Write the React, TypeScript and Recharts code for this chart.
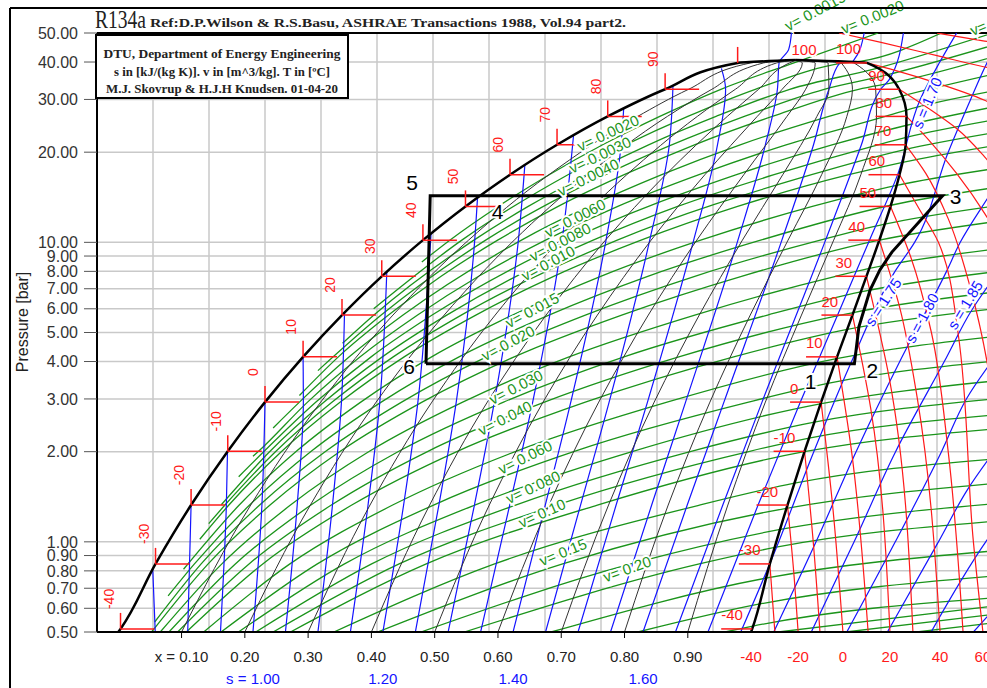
import React from "react";
import {
  ComposedChart,
  Line,
  XAxis,
  YAxis,
  CartesianGrid,
  ReferenceLine,
  ReferenceDot,
} from "recharts";

// ---------- data (h in kJ/kg, p in bar, T in C) ----------

const P_TICKS = [0.5, 0.6, 0.7, 0.8, 0.9, 1, 2, 3, 4, 5, 6, 7, 8, 9, 10, 20, 30, 40, 50];
const H_GRID = [160, 180, 200, 220, 240, 260, 280, 300, 320, 340, 360, 380, 400, 420, 440, 460];

const SAT_T = [-40, -30, -20, -10, 0, 10, 20, 30, 40, 50, 60, 70, 80, 90, 100];
const SAT_P = [0.512, 0.844, 1.327, 2.006, 2.928, 4.146, 5.717, 7.702, 10.17, 13.18, 16.82, 21.17, 26.33, 32.44, 39.72];
const SAT_HL = [148.4, 160.9, 173.6, 186.7, 200.0, 213.6, 227.5, 241.7, 256.4, 271.6, 287.5, 304.3, 322.4, 342.9, 368.8];
const SAT_HV = [374.0, 380.3, 386.6, 392.7, 398.6, 404.3, 409.8, 414.8, 419.4, 423.4, 426.6, 428.8, 429.1, 426.5, 415.0];
const CRIT = [389.6, 40.59];
const BOTTOM_HL = 147.6;
const BOTTOM_HV = 373.6;

// quality lines x = 0.1 .. 0.9
const Q_P = [0.5, 1.327, 2.928, 5.717, 10.17, 16.82, 26.33, 32.44, 39.72, 40.59];
const Q_LABELS = ["x = 0.10", "0.20", "0.30", "0.40", "0.50", "0.60", "0.70", "0.80", "0.90"];
const Q_H = [
  [170.2, 194.9, 219.9, 245.7, 272.7, 301.4, 333.1, 351.3, 373.4, 389.6],
  [192.8, 216.2, 239.7, 264.0, 289.0, 315.3, 343.7, 359.6, 378.0, 389.6],
  [215.4, 237.5, 259.6, 282.2, 305.3, 329.2, 354.4, 368.0, 382.7, 389.6],
  [238.0, 258.8, 279.4, 300.4, 321.6, 343.1, 365.1, 376.3, 387.3, 389.6],
  [260.6, 280.1, 299.3, 318.7, 337.9, 357.1, 375.8, 384.7, 391.9, 389.6],
  [283.2, 301.4, 319.2, 336.9, 354.2, 371.0, 386.4, 393.1, 396.5, 389.6],
  [305.8, 322.7, 339.0, 355.1, 370.5, 384.9, 397.1, 401.4, 401.1, 389.6],
  [328.4, 344.0, 358.9, 373.3, 386.8, 398.8, 407.8, 409.8, 405.8, 389.6],
  [351.0, 365.3, 378.7, 391.6, 403.1, 412.8, 418.4, 418.1, 410.4, 389.6],
];

// isochores [h, p]
const ISOCHORES: { v: number; pts: number[][] }[] = [
  { v: 0.002, pts: [[256, 8.6], [266.0, 10.17], [283.3, 13.18], [301.5, 16.82], [320.6, 21.17], [341.0, 26.33], [362.8, 32.44], [388.9, 39.72], [419, 50]] },
  { v: 0.0025, pts: [[238.8, 6.0], [270.3, 10.17], [308.2, 16.82], [351.0, 26.33], [375.1, 32.44], [406.7, 39.72], [413, 40.3], [441.6, 50]] },
  { v: 0.003, pts: [[227.7, 4.6], [238.9, 5.717], [274.6, 10.17], [294.0, 13.18], [314.9, 16.82], [337.0, 21.17], [361.1, 26.33], [387.4, 32.44], [418.5, 38.1], [460, 50]] },
  { v: 0.0035, pts: [[218.9, 3.73], [241.5, 5.717], [278.8, 10.17], [321.6, 16.82], [371.2, 26.33], [399.7, 32.44], [421, 36.0], [460, 45.5]] },
  { v: 0.004, pts: [[212.3, 3.08], [226.2, 4.146], [244.1, 5.717], [262.9, 7.702], [283.1, 10.17], [304.7, 13.18], [328.3, 16.82], [353.4, 21.17], [381.2, 26.33], [412.0, 32.44], [425, 34.2], [460, 41.6]] },
  { v: 0.005, pts: [[202.9, 2.4], [212.3, 2.928], [230.1, 4.146], [249.3, 5.717], [291.6, 10.17], [341.7, 16.82], [369.7, 21.17], [401.4, 26.33], [427.5, 30.8], [460, 36.4]] },
  { v: 0.006, pts: [[195.7, 1.93], [197.7, 2.006], [215.2, 2.928], [234.0, 4.146], [254.5, 5.717], [276.3, 7.702], [300.2, 10.17], [326.0, 13.18], [355.0, 16.82], [386.1, 21.17], [421.5, 26.33], [428.8, 27.6], [460, 32.0]] },
  { v: 0.007, pts: [[190.6, 1.65], [199.7, 2.006], [218.2, 2.928], [237.9, 4.146], [259.7, 5.717], [308.7, 10.17], [368.4, 16.82], [402.5, 21.17], [429.2, 24.6], [460, 28.3]] },
  { v: 0.008, pts: [[184.4, 1.33], [201.8, 2.006], [221.1, 2.928], [241.9, 4.146], [264.9, 5.717], [289.7, 7.702], [317.2, 10.17], [347.4, 13.18], [381.8, 16.82], [418.9, 21.17], [429, 22.4], [460, 25.6]] },
  { v: 0.009, pts: [[179.9, 1.15], [185.7, 1.327], [203.9, 2.006], [224.0, 2.928], [245.8, 4.146], [270.1, 5.717], [325.8, 10.17], [395.2, 16.82], [428.5, 20.4], [460, 23.2]] },
  { v: 0.01, pts: [[176.7, 1.02], [187.1, 1.327], [206.0, 2.006], [226.9, 2.928], [249.7, 4.146], [275.3, 5.717], [303.1, 7.702], [334.3, 10.17], [368.8, 13.18], [408.5, 16.82], [427.7, 18.5], [460, 21.0]] },
  { v: 0.0125, pts: [[170.9, 0.81], [190.8, 1.327], [211.2, 2.006], [234.2, 2.928], [259.5, 4.146], [288.4, 5.717], [319.9, 7.702], [355.6, 10.17], [395.5, 13.18], [425.6, 15.5], [460, 17.6]] },
  { v: 0.015, pts: [[165.4, 0.66], [174.8, 0.844], [194.5, 1.327], [216.5, 2.006], [241.5, 2.928], [269.3, 4.146], [301.4, 5.717], [336.7, 7.702], [377.0, 10.17], [423.5, 13.3], [460, 15.2]] },
  { v: 0.0175, pts: [[160.6, 0.54], [177.2, 0.844], [198.1, 1.327], [221.7, 2.006], [248.8, 2.928], [279.1, 4.146], [314.4, 5.717], [353.5, 7.702], [398.3, 10.17], [421.3, 11.5], [460, 13.2]] },
  { v: 0.02, pts: [[159.5, 0.5], [179.7, 0.844], [201.8, 1.327], [226.9, 2.006], [256.1, 2.928], [289.0, 4.146], [327.4, 5.717], [370.2, 7.702], [419.4, 10.17], [460, 11.7]] },
  { v: 0.025, pts: [[162.6, 0.5], [184.6, 0.844], [209.1, 1.327], [237.3, 2.006], [270.6, 2.928], [308.6, 4.146], [353.5, 5.717], [403.8, 7.702], [415.8, 8.18], [460, 9.48]] },
  { v: 0.03, pts: [[165.7, 0.5], [189.4, 0.844], [216.4, 1.327], [247.8, 2.006], [285.2, 2.928], [328.2, 4.146], [379.5, 5.717], [412.8, 6.83], [460, 7.96]] },
  { v: 0.035, pts: [[168.8, 0.5], [194.3, 0.844], [223.7, 1.327], [258.2, 2.006], [299.8, 2.928], [347.8, 4.146], [405.6, 5.717], [410.1, 5.83], [460, 6.81]] },
  { v: 0.04, pts: [[171.9, 0.5], [199.2, 0.844], [231.0, 1.327], [268.7, 2.006], [314.4, 2.928], [367.4, 4.146], [408, 5.12], [460, 5.99]] },
  { v: 0.05, pts: [[178.1, 0.5], [208.9, 0.844], [245.6, 1.327], [289.6, 2.006], [343.6, 2.928], [404.1, 4.09], [460, 4.84]] },
  { v: 0.06, pts: [[184.3, 0.5], [218.7, 0.844], [260.2, 1.327], [310.5, 2.006], [372.7, 2.928], [401, 3.38], [460, 4.01]] },
  { v: 0.07, pts: [[190.5, 0.5], [228.4, 0.844], [274.9, 1.327], [331.4, 2.006], [398.3, 2.89], [460, 3.44]] },
  { v: 0.08, pts: [[196.7, 0.5], [238.1, 0.844], [289.5, 1.327], [352.2, 2.006], [396.2, 2.51], [460, 3.0]] },
  { v: 0.09, pts: [[202.9, 0.5], [247.9, 0.844], [304.1, 1.327], [373.1, 2.006], [394.3, 2.22], [460, 2.65]] },
  { v: 0.1, pts: [[209.1, 0.5], [257.6, 0.844], [318.7, 1.327], [392.6, 2.0], [460, 2.38]] },
  { v: 0.125, pts: [[224.6, 0.5], [282.0, 0.844], [355.3, 1.327], [389.1, 1.57], [460, 1.89]] },
  { v: 0.15, pts: [[240.2, 0.5], [306.3, 0.844], [386.2, 1.294], [460, 1.566]] },
  { v: 0.175, pts: [[255.7, 0.5], [330.7, 0.844], [384.0, 1.1], [460, 1.34]] },
  { v: 0.2, pts: [[271.2, 0.5], [355.1, 0.844], [382.1, 0.958], [460, 1.17]] },
  { v: 0.25, pts: [[302.2, 0.5], [378.8, 0.756], [460, 0.932]] },
  { v: 0.3, pts: [[333.2, 0.5], [376.3, 0.619], [460, 0.768]] },
  { v: 0.35, pts: [[364.3, 0.5], [374.2, 0.523], [460, 0.65]] },
  { v: 0.4, pts: [[383.4, 0.5], [460, 0.61]] },
  { v: 0.45, pts: [[407.5, 0.5], [460, 0.572]] },
  { v: 0.5, pts: [[432.8, 0.5], [460, 0.536]] },
];

// isentropes [h, p], high p first
const ISENTROPES: { s: number; pts: number[][] }[] = [
  { s: 0.85, pts: [[159.9, 0.815], [160.8, 0.5]] },
  { s: 0.9, pts: [[173.6, 1.327], [172.4, 0.5]] },
  { s: 0.95, pts: [[186.6, 2.0], [186.2, 1.327], [184.1, 0.5]] },
  { s: 1.0, pts: [[200, 2.928], [198.9, 1.327], [195.7, 0.5]] },
  { s: 1.05, pts: [[213.6, 4.146], [213.7, 2.928], [211.5, 1.327], [207.3, 0.5]] },
  { s: 1.1, pts: [[228.4, 5.83], [227.3, 2.928], [224.1, 1.327], [218.9, 0.5]] },
  { s: 1.15, pts: [[243.5, 7.96], [241.0, 2.928], [236.8, 1.327], [230.5, 0.5]] },
  { s: 1.2, pts: [[259.3, 10.7], [254.6, 2.928], [249.5, 1.327], [242.1, 0.5]] },
  { s: 1.25, pts: [[275.9, 14.1], [274.9, 10.17], [268.3, 2.928], [262.1, 1.327], [253.7, 0.5]] },
  { s: 1.3, pts: [[292.8, 18.1], [290.5, 10.17], [281.9, 2.928], [274.8, 1.327], [265.4, 0.5]] },
  { s: 1.35, pts: [[310.2, 22.8], [306.1, 10.17], [295.6, 2.928], [287.4, 1.327], [277.0, 0.5]] },
  { s: 1.4, pts: [[328.1, 28.0], [327.2, 21.17], [321.8, 10.17], [309.2, 2.928], [300.1, 1.327], [288.6, 0.5]] },
  { s: 1.45, pts: [[345.7, 33.2], [344.4, 21.17], [337.4, 10.17], [322.9, 2.928], [312.7, 1.327], [300.2, 0.5]] },
  { s: 1.5, pts: [[363.0, 38.1], [364.5, 32.44], [361.6, 21.17], [353.1, 10.17], [336.6, 2.928], [325.4, 1.327], [311.8, 0.5]] },
  { s: 1.55, pts: [[388, 50], [387, 44], [383.6, 39.72], [383.0, 32.44], [378.7, 21.17], [368.9, 10.17], [350.2, 2.928], [338.1, 1.327], [323.4, 0.5]] },
  { s: 1.6, pts: [[414, 50], [410, 40.2], [405.3, 39.72], [401.4, 32.44], [395.9, 21.17], [384.6, 10.17], [363.9, 2.928], [350.8, 1.327], [335.0, 0.5]] },
  { s: 1.65, pts: [[428, 50], [423, 35], [419.9, 32.44], [413.0, 21.17], [400.2, 10.17], [377.5, 2.928], [363.5, 1.327], [346.6, 0.5]] },
  { s: 1.7, pts: [[447, 50], [441, 40], [434, 30], [426, 16.9], [415.9, 10.17], [404.5, 5.717], [391.2, 2.928], [376.1, 1.327], [358.2, 0.5]] },
  { s: 1.75, pts: [[462, 47], [458, 40], [452, 30], [444, 20], [432, 10], [425, 8], [409.5, 4], [396, 2], [381.5, 0.9], [369.9, 0.5]] },
  { s: 1.8, pts: [[462, 16], [458, 14], [448.3, 10], [443.4, 8], [426.7, 4], [411.1, 2], [396.8, 1], [381.7, 0.5]] },
  { s: 1.85, pts: [[462, 8], [452.7, 6], [442.6, 4], [425.2, 2], [410.4, 1], [395.1, 0.5]] },
  { s: 1.9, pts: [[462, 4.3], [450.5, 3], [441.6, 2], [425.1, 1], [407.8, 0.5]] },
  { s: 1.95, pts: [[462, 2.1], [451, 1.5], [440.5, 1], [422.3, 0.5]] },
  { s: 2.0, pts: [[462, 1.15], [457.4, 1], [437.9, 0.5]] },
  { s: 2.05, pts: [[462, 0.62], [453, 0.5]] },
];

// superheated isotherms [h, p]
const ISOTHERMS: { t: number; pts: number[][] }[] = [
  { t: -30, pts: [[380.3, 0.844], [382.1, 0.5]] },
  { t: -20, pts: [[386.6, 1.327], [388.8, 0.8], [390.4, 0.5]] },
  { t: -10, pts: [[392.7, 2.006], [395.8, 1.0], [398.2, 0.5]] },
  { t: 0, pts: [[398.6, 2.928], [402.8, 1.3], [406.4, 0.5]] },
  { t: 10, pts: [[404.3, 4.146], [409.5, 2], [415.4, 0.5]] },
  { t: 20, pts: [[409.8, 5.717], [416.3, 2.8], [423.2, 0.5]] },
  { t: 30, pts: [[414.8, 7.702], [423, 3.5], [431.4, 0.5]] },
  { t: 40, pts: [[419.4, 10.17], [426.8, 6], [433, 3], [441.1, 0.5]] },
  { t: 50, pts: [[423.4, 13.18], [430.5, 9], [438, 5], [444, 2], [449.3, 0.5]] },
  { t: 60, pts: [[426.6, 16.82], [433.5, 13], [440.5, 10], [447.5, 5], [453, 1], [456.4, 0.5]] },
  { t: 70, pts: [[428.8, 21.17], [436, 17], [444, 12], [452, 7], [460, 3], [463, 1.5]] },
  { t: 80, pts: [[429.1, 26.33], [437, 22], [447, 17], [457, 12.5], [463, 10]] },
  { t: 90, pts: [[426.5, 32.44], [437, 28], [447, 24], [457, 19.3], [463, 16.5]] },
  { t: 100, pts: [[415, 39.72], [425, 37.5], [440, 34], [457, 29.8], [463, 28]] },
  { t: 110, pts: [[405, 50], [420, 46.5], [440, 42], [457, 38.5], [463, 37.5]] },
  { t: 120, pts: [[440, 50], [457, 47], [463, 46]] },
];

// refrigeration cycle 6-2-3-5-6
const CYCLE_H = [257.5, 410.5, 412.1, 416.1, 419.6, 423.9, 442.0, 259.0, 257.5];
const CYCLE_P = [3.93, 3.93, 5.22, 6.93, 8.09, 9.28, 14.3, 14.3, 3.93];
const CYCLE_NAMES = ["1", "2", "3", "4", "5", "6"];
const CYCLE_NAME_H = [403.4, 410.5, 442.0, 276.6, 259.0, 257.5];
const CYCLE_NAME_P = [3.93, 3.93, 14.3, 14.3, 14.3, 3.93];

const T_BOTTOM = ["-40", "-20", "0", "20", "40", "60"];
const T_BOTTOM_H = [373.6, 390.4, 406.4, 423.2, 441.1, 456.4];
const S_BOTTOM = ["s = 1.00", "1.20", "1.40", "1.60"];
const S_BOTTOM_H = [195.7, 242.1, 288.6, 335.0];

const V_LABELS: [string, number, number, number][] = [
  ["v= 0.0020", 322.5, 23.2, -25],
  ["v= 0.0030", 319.6, 19.6, -25],
  ["v= 0.0040", 315.4, 16.5, -26],
  ["v= 0.0060", 310.7, 12.06, -27],
  ["v= 0.0080", 305.4, 10.03, -27],
  ["v= 0.010", 301.1, 8.53, -28],
  ["v= 0.015", 295.4, 5.94, -28],
  ["v= 0.020", 286.8, 4.61, -28],
  ["v= 0.030", 289.6, 3.29, -27],
  ["v= 0.040", 285.7, 2.59, -27],
  ["v= 0.060", 292.9, 1.92, -26],
  ["v= 0.080", 295.7, 1.524, -25],
  ["v= 0.10", 298.9, 1.248, -24],
  ["v= 0.15", 306.4, 0.925, -22],
  ["v= 0.20", 329.3, 0.812, -20],
];
const V_TOP_LABELS: [string, number, number, number][] = [
  ["v= 0.0015", 386, 52.5, -28],
  ["v= 0.0020", 406, 51.5, -22],
  ["v= 0.0025", 452, 50.8, -22],
];
const S_LABELS: [string, number, number, number][] = [
  ["s = 1.70", 436.4, 29.2, -67],
  ["s = 1.75", 420.7, 6.32, -57],
  ["s = 1.80", 434.6, 5.59, -62],
  ["s = 1.85", 450.0, 6.18, -59],
];

// ---------- helpers ----------

const GREEN = "#1b941b";
const BLUE = "#1414ff";
const RED = "#ff1a1a";
const FONT = "'Liberation Sans', Arial, sans-serif";
const SERIF = "'Liberation Serif', 'Times New Roman', serif";

type Row = { h: number; p: number | null };
const joinCurves = (curves: number[][][]): Row[] =>
  curves.flatMap((c) => [
    ...c.map(([h, p]) => ({ h, p })),
    { h: c[c.length - 1][0], p: null },
  ]);

const isochoreRows = joinCurves(ISOCHORES.map((c) => c.pts));
const isentropeRows = joinCurves(ISENTROPES.map((c) => c.pts));
const isothermRows = joinCurves(ISOTHERMS.map((c) => c.pts));
const qualityRows = joinCurves(Q_H.map((row) => row.map((h, i) => [h, Q_P[i]])));
const liquidRows = joinCurves([
  [[BOTTOM_HL, 0.5], ...SAT_HL.map((h, i) => [h, SAT_P[i]]), CRIT],
]);
const vaporRows = joinCurves([
  [CRIT, ...SAT_HV.map((h, i) => [h, SAT_P[i]]).reverse(), [BOTTOM_HV, 0.5]],
]);
const cycleRows = CYCLE_H.map((h, i) => ({ h, p: CYCLE_P[i] }));

const BOTTOM_TICKS = [...Q_H.map((r) => r[0]), ...T_BOTTOM_H, ...S_BOTTOM_H];

function Txt(props: any) {
  const { x, y, text, color, size = 15, angle = 0, anchor = "middle", halo = false, family = FONT } = props;
  return (
    <text
      x={x}
      y={y}
      fill={color}
      fontSize={size}
      fontFamily={family}
      textAnchor={anchor}
      dominantBaseline="central"
      transform={angle ? `rotate(${angle} ${x} ${y})` : undefined}
      stroke={halo ? "#ffffff" : "none"}
      strokeWidth={halo ? 4 : 0}
      paintOrder="stroke"
    >
      {text}
    </text>
  );
}

function BottomTick(props: any) {
  const { x, y, payload } = props;
  const v = payload.value;
  const near = (a: number) => Math.abs(a - v) < 1e-6;
  const qi = Q_H.findIndex((r) => near(r[0]));
  if (qi >= 0) {
    return (
      <g>
        <line x1={x} y1={y} x2={x} y2={y + 6} stroke="#000" />
        <Txt x={x} y={y + 24} text={Q_LABELS[qi]} color="#222" />
      </g>
    );
  }
  const ti = T_BOTTOM_H.findIndex(near);
  if (ti >= 0) return <Txt x={x} y={y + 24} text={T_BOTTOM[ti]} color={RED} />;
  const si = S_BOTTOM_H.findIndex(near);
  if (si >= 0) return <Txt x={x} y={y + 46} text={S_BOTTOM[si]} color={BLUE} />;
  return null;
}

const CYCLE_OFFSET: Record<string, [number, number]> = {
  "1": [-24, 18],
  "2": [18, 7],
  "3": [13, 1],
  "4": [18, 16],
  "5": [-18, -13],
  "6": [-17, 3],
};

export default function App() {
  return (
    <div style={{ position: "absolute", left: 0, top: 0, width: 987, height: 688, overflow: "hidden", background: "#fff" }}>
      <ComposedChart width={1000} height={688} margin={{ top: 33, right: 7, bottom: 0, left: 0 }}>
        <CartesianGrid horizontalValues={P_TICKS} verticalValues={H_GRID} stroke="#c9c9c9" strokeWidth={1.5} />
        <XAxis
          type="number"
          dataKey="h"
          domain={[140, 460]}
          allowDataOverflow
          ticks={BOTTOM_TICKS}
          interval={0}
          tick={BottomTick}
          tickLine={false}
          tickSize={0}
          tickMargin={0}
          height={56}
          axisLine={{ stroke: "#000", strokeWidth: 2 }}
        />
        <YAxis
          type="number"
          scale="log"
          domain={[0.5, 50]}
          allowDataOverflow
          ticks={P_TICKS}
          interval={0}
          width={97}
          tickSize={13}
          tickMargin={6}
          tickFormatter={(v: number) => v.toFixed(2)}
          tick={{ fontSize: 16, fill: "#333", fontFamily: FONT }}
          tickLine={{ stroke: "#555" }}
          axisLine={{ stroke: "#000", strokeWidth: 2 }}
        />
        <ReferenceLine y={50} stroke="#000" strokeWidth={2} />

        <Line data={isochoreRows} dataKey="p" type="monotoneX" stroke={GREEN} strokeWidth={1.3} dot={false} activeDot={false} isAnimationActive={false} />
        <Line data={isentropeRows} dataKey="p" type="monotoneY" stroke={BLUE} strokeWidth={1.2} dot={false} activeDot={false} isAnimationActive={false} />
        <Line data={qualityRows} dataKey="p" type="monotoneY" stroke="#333" strokeWidth={1} dot={false} activeDot={false} isAnimationActive={false} />
        <Line data={isothermRows} dataKey="p" type="monotoneY" stroke={RED} strokeWidth={1.2} dot={false} activeDot={false} isAnimationActive={false} />
        <Line data={liquidRows} dataKey="p" type="monotoneY" stroke="#000" strokeWidth={2.5} dot={false} activeDot={false} isAnimationActive={false} />
        <Line data={vaporRows} dataKey="p" type="monotoneY" stroke="#000" strokeWidth={2.5} dot={false} activeDot={false} isAnimationActive={false} />
        <Line data={cycleRows} dataKey="p" type="linear" stroke="#000" strokeWidth={3} dot={false} activeDot={false} isAnimationActive={false} />

        {SAT_T.map((t, i) => (
          <ReferenceDot
            key={`l${t}`}
            x={SAT_HL[i]}
            y={SAT_P[i]}
            r={0}
            ifOverflow="visible"
            shape={(pr: any) => (
              <g>
                <line x1={pr.cx} y1={pr.cy} x2={pr.cx} y2={pr.cy - 16} stroke={RED} strokeWidth={1.5} />
                {t < 100 && <line x1={pr.cx} y1={pr.cy} x2={pr.cx + 34} y2={pr.cy} stroke={RED} strokeWidth={1.5} />}
                {t < 100 && <Txt x={pr.cx - 12} y={pr.cy - 30} text={String(t)} color={RED} angle={-90} size={14} />}
              </g>
            )}
          />
        ))}
        {SAT_T.map((t, i) => (
          <ReferenceDot
            key={`v${t}`}
            x={SAT_HV[i]}
            y={SAT_P[i]}
            r={0}
            ifOverflow="visible"
            shape={(pr: any) => (
              <g>
                <line x1={pr.cx - 31} y1={pr.cy} x2={pr.cx} y2={pr.cy} stroke={RED} strokeWidth={1.5} />
                <Txt x={pr.cx - 31} y={pr.cy - 14} text={String(t)} color={RED} anchor="start" />
              </g>
            )}
          />
        ))}
        <ReferenceDot x={392.5} y={43.9} r={0} ifOverflow="visible" shape={(pr: any) => <Txt x={pr.cx} y={pr.cy} text="100" color={RED} halo />} />

        {V_LABELS.map(([text, h, p, a]) => (
          <ReferenceDot key={text} x={h} y={p} r={0} ifOverflow="visible" shape={(pr: any) => <Txt x={pr.cx} y={pr.cy} text={text} color={GREEN} angle={a} halo />} />
        ))}
        {V_TOP_LABELS.map(([text, h, p, a]) => (
          <ReferenceDot key={`t${text}`} x={h} y={p} r={0} ifOverflow="visible" shape={(pr: any) => <Txt x={pr.cx} y={pr.cy} text={text} color={GREEN} angle={a} anchor="start" halo />} />
        ))}
        {S_LABELS.map(([text, h, p, a]) => (
          <ReferenceDot key={text} x={h} y={p} r={0} ifOverflow="visible" shape={(pr: any) => <Txt x={pr.cx} y={pr.cy} text={text} color={BLUE} angle={a} halo />} />
        ))}
        {CYCLE_NAMES.map((n, i) => (
          <ReferenceDot
            key={`c${n}`}
            x={CYCLE_NAME_H[i]}
            y={CYCLE_NAME_P[i]}
            r={0}
            ifOverflow="visible"
            shape={(pr: any) => <Txt x={pr.cx + CYCLE_OFFSET[n][0]} y={pr.cy + CYCLE_OFFSET[n][1]} text={n} color="#000" size={21} halo />}
          />
        ))}
      </ComposedChart>

      <svg width={987} height={688} style={{ position: "absolute", left: 0, top: 0, pointerEvents: "none" }}>
        <line x1={10} y1={8} x2={987} y2={8} stroke="#000" strokeWidth={2} />
        <line x1={10} y1={8} x2={10} y2={688} stroke="#000" strokeWidth={2} />
        <text x={95} y={28} fontFamily={SERIF} fontSize={25} fill="#222" textLength={51} lengthAdjust="spacingAndGlyphs">R134a</text>
        <text x={150} y={27} fontFamily={SERIF} fontSize={12} fontWeight="bold" fill="#222" textLength={476} lengthAdjust="spacingAndGlyphs">
          Ref:D.P.Wilson &amp; R.S.Basu, ASHRAE Transactions 1988, Vol.94 part2.
        </text>
        <rect x={96} y={35} width={252} height={63} fill="#fff" stroke="#000" strokeWidth={2} />
        <text x={222} y={58} textAnchor="middle" fontFamily={SERIF} fontSize={12.5} fontWeight="bold" fill="#222" textLength={237} lengthAdjust="spacingAndGlyphs">
          DTU, Department of Energy Engineering
        </text>
        <text x={222} y={76} textAnchor="middle" fontFamily={SERIF} fontSize={12.5} fontWeight="bold" fill="#222" textLength={216} lengthAdjust="spacingAndGlyphs">
          s in [kJ/(kg K)]. v in [m^3/kg]. T in [ºC]
        </text>
        <text x={222} y={93} textAnchor="middle" fontFamily={SERIF} fontSize={12.5} fontWeight="bold" fill="#222" textLength={232} lengthAdjust="spacingAndGlyphs">
          M.J. Skovrup &amp; H.J.H Knudsen. 01-04-20
        </text>
        <text x={22} y={322} textAnchor="middle" fontFamily={FONT} fontSize={16} fill="#222" transform="rotate(-90 22 322)" dominantBaseline="central">
          Pressure [bar]
        </text>
      </svg>
    </div>
  );
}
